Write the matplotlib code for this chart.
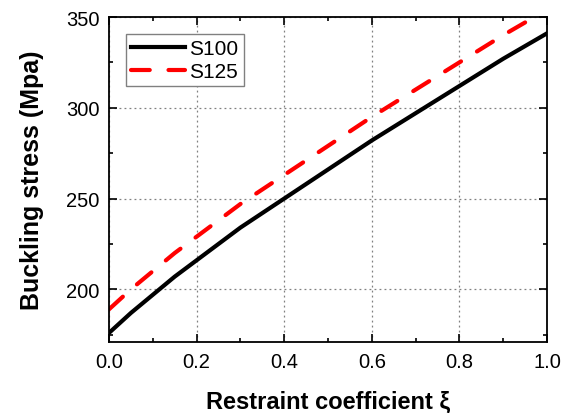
import numpy as np
import matplotlib
matplotlib.use('Agg')
import matplotlib.pyplot as plt
from matplotlib.ticker import MultipleLocator

plt.rcParams['font.family'] = ['Liberation Sans', 'DejaVu Sans']

# restraint coefficient and buckling stress
xi = [0.0, 0.05, 0.1, 0.15, 0.2, 0.3, 0.4, 0.5, 0.6, 0.7, 0.8, 0.9, 1.0]
s100 = [176, 187, 197, 207, 216, 234, 250, 266, 282, 297, 312, 327, 341]
s125 = [189, 200, 210, 220, 229, 247, 263, 279, 295, 310, 325, 340, 354]

fig = plt.figure(figsize=(5.69, 4.14), dpi=100)
ax = fig.add_axes([109 / 569, 1 - 343 / 414, (547 - 109) / 569, (343 - 18) / 414])

ax.plot(xi, s100, color='black', lw=3, label='S100')
ax.plot(xi, s125, color='red', lw=3, ls=(0, (4.5, 4.5)), dash_capstyle='round',
        label='S125')

ax.set_xlim(0, 1)
ax.set_ylim(171, 350)
ax.xaxis.set_major_locator(MultipleLocator(0.2))
ax.xaxis.set_minor_locator(MultipleLocator(0.1))
ax.yaxis.set_major_locator(MultipleLocator(50))
ax.yaxis.set_minor_locator(MultipleLocator(25))
ax.tick_params(which='both', direction='in', top=True, right=True, labelsize=14.5, width=1.2)
ax.tick_params(which='major', length=6, pad=7)
ax.tick_params(which='minor', length=3)
ax.grid(True, which='major', ls=(0, (1.5, 2.5)), color='gray', lw=0.9)
for sp in ax.spines.values():
    sp.set_linewidth(1.3)

ax.set_xlabel('Restraint coefficient ξ', fontsize=17, fontweight='bold', labelpad=14)
ax.set_ylabel('Buckling stress (Mpa)', fontsize=18, fontweight='bold', labelpad=16)

leg = ax.legend(loc='upper left', fontsize=15, fancybox=False, framealpha=1,
                edgecolor='gray', handlelength=2.6, borderaxespad=0.8,
                borderpad=0.25, labelspacing=0.2, handletextpad=0.2)
leg.get_frame().set_linewidth(1.0)

fig.savefig('out.png', dpi=100)
